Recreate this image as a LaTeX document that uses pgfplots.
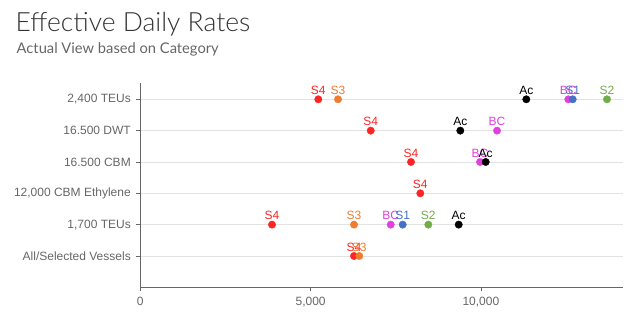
\documentclass[border=0pt]{standalone}
\usepackage{pgfplots}
\pgfplotsset{compat=1.18}
\usepackage{fontspec}
\setmainfont{Liberation Sans}
\newfontfamily\lato{Lato}
\newfontfamily\latolight{Lato Light}
\definecolor{cS4}{HTML}{FF2424}
\definecolor{cS3}{HTML}{ED7D31}
\definecolor{cBC}{HTML}{E040E0}
\definecolor{cS1}{HTML}{4472C4}
\definecolor{cS2}{HTML}{70AD47}
\definecolor{cAc}{HTML}{000000}
\definecolor{ctitle}{HTML}{333333}
\definecolor{csub}{HTML}{666666}
\definecolor{labelgray}{HTML}{666666}
\definecolor{axisgray}{HTML}{666666}
\definecolor{gridgray}{HTML}{E3E3E3}
\pgfplotsset{
  dots/.style={only marks, mark=*, mark size=3.7pt, color=#1, mark options={draw=#1, fill=#1},
    every node near coord/.append style={anchor=center, yshift=9pt, font=\fontsize{12}{14}\selectfont, text=#1, inner sep=0pt}},
}
\begin{document}
\begin{tikzpicture}
\path (0pt,0pt) rectangle (639pt,326pt);
\node[anchor=base west, inner sep=0pt, font=\latolight\fontsize{26.5}{30}\selectfont, text=ctitle] at (15.5pt,294.3pt) {Effective Daily Rates};
\node[anchor=base west, inner sep=0pt, font=\lato\fontsize{14.7}{17}\selectfont, text=csub] at (16.5pt,272.7pt) {Actual View based on Category};
\begin{axis}[
  at={(140.3pt,38.7pt)}, anchor=south west,
  scale only axis, width=482.4pt, height=204.6pt,
  xmin=0, xmax=14163, ymin=-1, ymax=5.53,
  axis x line=bottom, axis y line=left,
  axis line style={-, draw=axisgray, line width=0.8pt},
  xtick={0,5000,10000},
  ytick={0,1,2,3,4,5},
  yticklabels={All/Selected Vessels,{1,700 TEUs},{12,000 CBM Ethylene},16.500 CBM,16.500 DWT,{2,400 TEUs}},
  scaled x ticks=false,
  /pgf/number format/assume math mode=true,
  /pgf/number format/1000 sep={,},
  tick align=outside, major tick length=4pt,
  tick style={draw=axisgray, line width=0.6pt},
  ymajorgrids, grid style={draw=gridgray, line width=0.8pt},
  xticklabel style={font=\fontsize{12}{14}\selectfont, text=labelgray, yshift=-2pt},
  yticklabel style={font=\fontsize{12}{14}\selectfont, text=labelgray, xshift=-2pt},
  clip=false,
]
\addplot[dots=cS4, nodes near coords={S4}] coordinates {(5226,5) (6765,4) (7948,3) (8221,2) (3867,1) (6274,0)};
\addplot[dots=cS3, nodes near coords={S3}] coordinates {(5805,5) (6274,1) (6430,0)};
\addplot[dots=cBC, nodes near coords={BC}] coordinates {(12566,5) (10473,4) (9974,3) (7352,1)};
\addplot[dots=cS1, nodes near coords={S1}] coordinates {(12695,5) (7704,1)};
\addplot[dots=cS2, nodes near coords={S2}] coordinates {(13702,5) (8456,1)};
\addplot[dots=cAc, nodes near coords={Ac}] coordinates {(11333,5) (9395,4) (10141,3) (9348,1)};
\end{axis}
\end{tikzpicture}
\end{document}
